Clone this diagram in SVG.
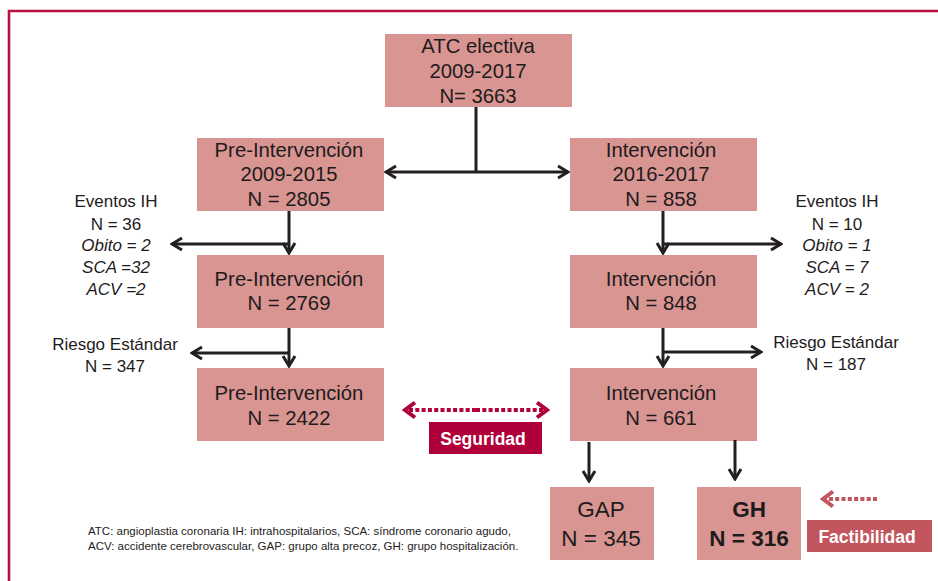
<svg xmlns="http://www.w3.org/2000/svg" width="938" height="581" viewBox="0 0 938 581">
<defs>
<style>
.box{fill:#d99592;}
.t{font-family:"Liberation Sans",Arial,sans-serif;font-size:20.3px;fill:#1e1b1c;text-anchor:middle;}
.s{font-family:"Liberation Sans",Arial,sans-serif;font-size:17px;fill:#1e1b1c;text-anchor:middle;}
.i{font-style:italic;}
.big{font-family:"Liberation Sans",Arial,sans-serif;font-size:22.5px;fill:#1e1b1c;text-anchor:middle;}
.b{font-weight:bold;}
.lbl{font-family:"Liberation Sans",Arial,sans-serif;font-size:17.5px;font-weight:bold;fill:#ffffff;text-anchor:middle;}
.fn{font-family:"Liberation Sans",Arial,sans-serif;font-size:11.5px;fill:#1e1b1c;}
.c{fill:none;stroke:#231f20;stroke-width:3;}
</style>
<marker id="ah" markerUnits="userSpaceOnUse" viewBox="-12 -8 14 16" refX="0" refY="0" markerWidth="14" markerHeight="16" orient="auto">
<path d="M-10,-6 L0,0 L-10,6" fill="none" stroke="#231f20" stroke-width="3"/>
</marker>
<marker id="ahr" markerUnits="userSpaceOnUse" viewBox="-13 -10 16 20" refX="0" refY="0" markerWidth="16" markerHeight="20" orient="auto">
<path d="M-10,-7.5 L0,0 L-10,7.5" fill="none" stroke="#b0003a" stroke-width="4"/>
</marker>
<marker id="ahr2" markerUnits="userSpaceOnUse" viewBox="-13 -10 16 20" refX="0" refY="0" markerWidth="16" markerHeight="20" orient="auto">
<path d="M-10,-7.5 L0,0 L-10,7.5" fill="none" stroke="#c2555d" stroke-width="4"/>
</marker>
</defs>
<rect width="938" height="581" fill="#ffffff"/>
<path d="M9,581 L9,11 L938,11" fill="none" stroke="#b8103f" stroke-width="2.6"/>

<g id="n-atc"><rect class="box" x="385" y="34" width="187" height="73"/>
<text class="t" x="478" y="53">ATC electiva</text><text class="t" x="478" y="78">2009-2017</text><text class="t" x="478" y="103">N= 3663</text></g>

<g id="n-pre1"><rect class="box" x="197" y="138" width="187" height="73"/>
<text class="t" x="289" y="157">Pre-Intervención</text><text class="t" x="289" y="181">2009-2015</text><text class="t" x="289" y="205.5">N = 2805</text></g>

<g id="n-int1"><rect class="box" x="570" y="138" width="187" height="73"/>
<text class="t" x="661" y="157">Intervención</text><text class="t" x="661" y="181">2016-2017</text><text class="t" x="661" y="205.5">N = 858</text></g>

<g id="n-pre2"><rect class="box" x="197" y="255" width="187" height="73"/>
<text class="t" x="289" y="286">Pre-Intervención</text><text class="t" x="289" y="310">N = 2769</text></g>

<g id="n-int2"><rect class="box" x="570" y="255" width="187" height="73"/>
<text class="t" x="661" y="286">Intervención</text><text class="t" x="661" y="310">N = 848</text></g>

<g id="n-pre3"><rect class="box" x="197" y="368" width="187" height="73"/>
<text class="t" x="289" y="400">Pre-Intervención</text><text class="t" x="289" y="425">N = 2422</text></g>

<g id="n-int3"><rect class="box" x="570" y="368" width="187" height="73"/>
<text class="t" x="661" y="400">Intervención</text><text class="t" x="661" y="425">N = 661</text></g>

<g id="n-gap"><rect class="box" x="550" y="487" width="104" height="73"/>
<text class="big" x="601" y="517">GAP</text><text class="big" x="601" y="546">N = 345</text></g>

<g id="n-gh"><rect class="box" x="697" y="487" width="104" height="73"/>
<text class="big b" x="749" y="517">GH</text><text class="big b" x="749" y="546">N = 316</text></g>

<g id="n-ev1">
<text class="s" x="116" y="207">Eventos IH</text><text class="s" x="116" y="230">N = 36</text>
<text class="s i" x="116" y="251">Obito = 2</text><text class="s i" x="116" y="273">SCA =32</text><text class="s i" x="116" y="295">ACV =2</text></g>

<g id="n-ev2">
<text class="s" x="837" y="207">Eventos IH</text><text class="s" x="837" y="230">N = 10</text>
<text class="s i" x="837" y="251">Obito = 1</text><text class="s i" x="837" y="273">SCA = 7</text><text class="s i" x="837" y="295">ACV = 2</text></g>

<g id="n-rs1"><text class="s" x="115" y="350">Riesgo Estándar</text><text class="s" x="115" y="372">N = 347</text></g>
<g id="n-rs2"><text class="s" x="836" y="348">Riesgo Estándar</text><text class="s" x="836" y="370">N = 187</text></g>

<g id="n-seg"><rect x="429" y="422" width="113" height="32" fill="#b0003a"/><text class="lbl" x="483" y="444.5">Seguridad</text></g>
<g id="n-fac"><rect x="807" y="520" width="125" height="32" fill="#c2555d"/><text class="lbl" x="867" y="542.5">Factibilidad</text></g>

<g id="footnote">
<text class="fn" x="88" y="535">ATC: angioplastia coronaria IH: intrahospitalarios, SCA: síndrome coronario agudo,</text>
<text class="fn" x="88" y="550">ACV: accidente  cerebrovascular, GAP: grupo alta precoz, GH: grupo hospitalización.</text>
</g>

<g id="connectors">
<path class="c" d="M476,107 L476,172"/>
<path class="c" d="M476,172 L386,172" marker-end="url(#ah)"/>
<path class="c" d="M476,172 L568,172" marker-end="url(#ah)"/>
<path class="c" d="M289,211 L289,253" marker-end="url(#ah)"/>
<path class="c" d="M289,244 L172,244" marker-end="url(#ah)"/>
<path class="c" d="M663,211 L663,253" marker-end="url(#ah)"/>
<path class="c" d="M663,244 L781,244" marker-end="url(#ah)"/>
<path class="c" d="M289,328 L289,366" marker-end="url(#ah)"/>
<path class="c" d="M289,353 L192,353" marker-end="url(#ah)"/>
<path class="c" d="M663,328 L663,366" marker-end="url(#ah)"/>
<path class="c" d="M663,352 L761,352" marker-end="url(#ah)"/>
<path class="c" d="M589,442 L589,481" marker-end="url(#ah)"/>
<path class="c" d="M735,440 L735,479" marker-end="url(#ah)"/>
<path d="M476,410 L405,410" fill="none" stroke="#b0003a" stroke-width="4" stroke-dasharray="4 2.3" marker-end="url(#ahr)"/>
<path d="M476,410 L547,410" fill="none" stroke="#b0003a" stroke-width="4" stroke-dasharray="4 2.3" marker-end="url(#ahr)"/>
<path d="M877,499 L823,499" fill="none" stroke="#c2555d" stroke-width="4" stroke-dasharray="4 2.3" marker-end="url(#ahr2)"/>
</g>
</svg>
